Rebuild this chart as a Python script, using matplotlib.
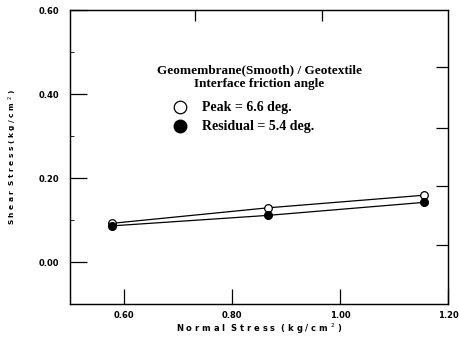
import matplotlib
matplotlib.use('Agg')
import matplotlib.pyplot as plt
from matplotlib.lines import Line2D

normal_stress = [0.577, 0.866, 1.155]
peak = [0.092, 0.129, 0.159]
residual = [0.086, 0.111, 0.142]

title1 = 'Geomembrane(Smooth) / Geotextile'
title2 = 'Interface friction angle'
peak_label = 'Peak = 6.6 deg.'
res_label = 'Residual = 5.4 deg.'

fig = plt.figure(figsize=(4.59, 3.43), dpi=100)
ax = fig.add_axes([0.1525, 0.1137, 0.824, 0.857])

ax.plot(normal_stress, peak, color='black', lw=0.9, marker='o', ms=5.5,
        mfc='white', mec='black', mew=0.9)
ax.plot(normal_stress, residual, color='black', lw=0.9, marker='o', ms=5.5,
        mfc='black', mec='black')

ax.set_xlim(0.5, 1.2)
ax.set_ylim(-0.1, 0.6)
ax.set_xticks([0.6, 0.8, 1.0, 1.2])
ax.set_yticks([0.0, 0.2, 0.4, 0.6])
ax.set_yticks([0.1, 0.3, 0.5], minor=True)
ax.set_xticklabels(['0.60', '0.80', '1.00', '1.20'])
ax.set_yticklabels(['0.00', '0.20', '0.40', '0.60'])
ax.tick_params(axis='both', direction='in', labelsize=6, width=0.9)
ax.tick_params(axis='x', length=11, pad=5)
ax.tick_params(axis='y', length=12, pad=8)
ax.tick_params(axis='y', which='minor', length=3, direction='in')
for lab in ax.get_xticklabels() + ax.get_yticklabels():
    lab.set_fontweight('bold')
for s in ax.spines.values():
    s.set_linewidth(0.9)

# right and top ticks of the original frame
axr = ax.twinx()
axr.set_ylim(-0.1, 0.6)
axr.set_yticks([0.04, 0.18, 0.32, 0.464])
axr.set_yticklabels([])
axr.tick_params(direction='in', length=9, width=0.9)
axt = ax.twiny()
axt.set_xlim(0.5, 1.2)
axt.set_xticks([0.731, 0.967])
axt.set_xticklabels([])
axt.tick_params(direction='in', length=8, width=0.9)

ax.set_xlabel('N o r m a l  S t r e s s  ( k g / c m $^2$ )', fontsize=6,
              fontweight='bold', labelpad=1)
ax.set_ylabel('S h e a r  S t r e s s ( k g / c m $^2$ )', fontsize=5.3,
              fontweight='bold', labelpad=14)

serif = ['Liberation Serif', 'DejaVu Serif']
ax.text(0.501, 0.795, title1, transform=ax.transAxes, ha='center', va='center',
        fontsize=9.5, fontweight='bold', family=serif)
ax.text(0.501, 0.750, title2, transform=ax.transAxes, ha='center', va='center',
        fontsize=9.5, fontweight='bold', family=serif)
ax.add_line(Line2D([0.29], [0.670], transform=ax.transAxes, marker='o',
                   ms=9, mfc='white', mec='black', mew=0.9, ls='none'))
ax.add_line(Line2D([0.29], [0.605], transform=ax.transAxes, marker='o',
                   ms=9, mfc='black', mec='black', ls='none'))
ax.text(0.35, 0.670, peak_label, transform=ax.transAxes, va='center',
        fontsize=10, fontweight='bold', family=serif)
ax.text(0.35, 0.605, res_label, transform=ax.transAxes, va='center',
        fontsize=10, fontweight='bold', family=serif)

fig.savefig('out.png', dpi=100)
